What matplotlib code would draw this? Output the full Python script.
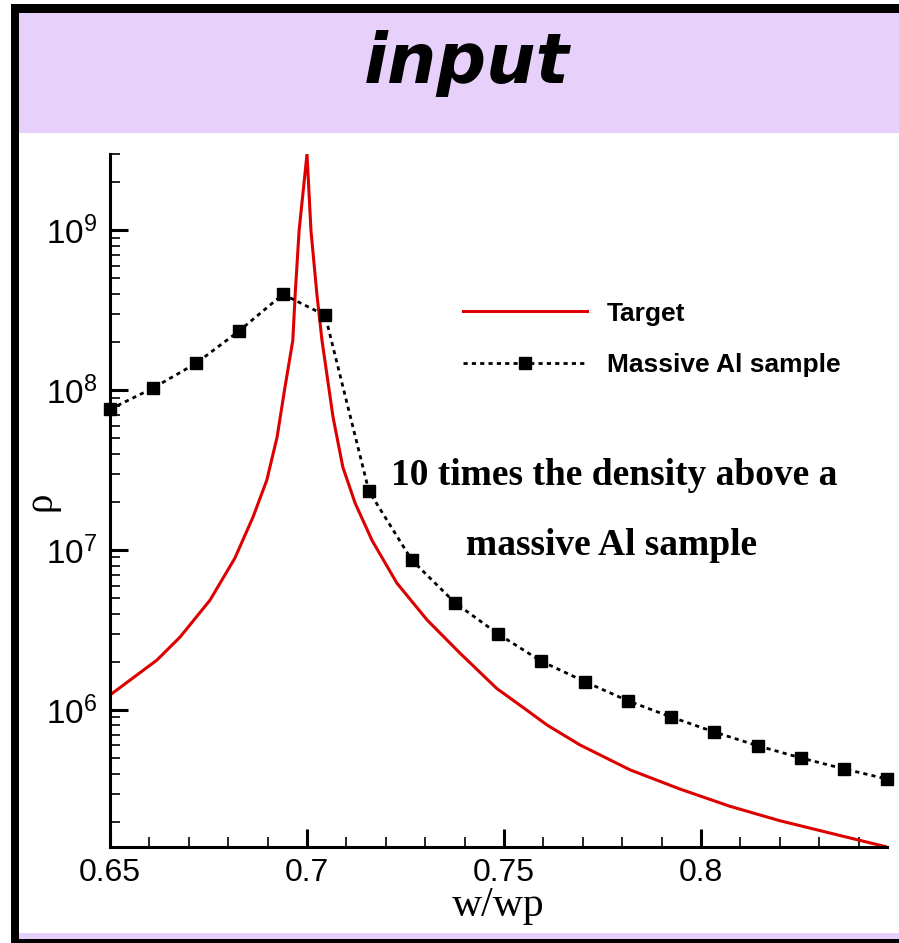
import matplotlib
matplotlib.use("Agg")
import matplotlib.pyplot as plt
from matplotlib.patches import Rectangle
from matplotlib.ticker import MultipleLocator, LogLocator, NullFormatter, FuncFormatter

# red curve (Target)
target_x = [0.650, 0.6619, 0.6678, 0.6754, 0.6817, 0.6863, 0.6898, 0.6924, 0.6944,
            0.6964, 0.6970, 0.6980, 0.7000, 0.7010, 0.7025, 0.7038, 0.7066, 0.7091,
            0.7122, 0.7165, 0.7228, 0.7305, 0.7388, 0.7482, 0.7550, 0.7609, 0.7693,
            0.7820, 0.7947, 0.8073, 0.8200, 0.8327, 0.8472]
target_y = [1.24e6, 2.05e6, 2.86e6, 4.87e6, 8.91e6, 1.61e7, 2.74e7, 5.08e7, 1.04e8,
            2.05e8, 4.0e8, 1.0e9, 3.0e9, 1.0e9, 4.0e8, 2.05e8, 6.8e7, 3.3e7,
            1.97e7, 1.15e7, 6.22e6, 3.65e6, 2.27e6, 1.36e6, 1.03e6, 8.06e5, 6.04e5,
            4.22e5, 3.20e5, 2.50e5, 2.03e5, 1.70e5, 1.39e5]

# black squares (Massive Al sample)
sample_x = [0.650, 0.6609, 0.6718, 0.6827, 0.6939, 0.7046, 0.7157, 0.7266, 0.7376,
            0.7485, 0.7594, 0.7706, 0.7815, 0.7924, 0.8033, 0.8145, 0.8254, 0.8363, 0.8472]
sample_y = [7.6e7, 1.03e8, 1.47e8, 2.34e8, 3.98e8, 2.94e8, 2.34e7, 8.66e6, 4.67e6,
            2.99e6, 2.02e6, 1.50e6, 1.14e6, 9.04e5, 7.29e5, 5.96e5, 5.01e5, 4.28e5, 3.70e5]

plt.rcParams['mathtext.fontset'] = 'custom'
plt.rcParams['mathtext.rm'] = 'Liberation Sans'
plt.rcParams['mathtext.it'] = 'Liberation Sans'

W, H = 899, 943
fig = plt.figure(figsize=(W / 100, H / 100), dpi=100)
fig.patch.set_facecolor('white')


def px_rect(x0, y0, x1, y1, color):
    # rectangle given in pixels from the top-left corner
    fig.add_artist(Rectangle((x0 / W, 1 - y1 / H), (x1 - x0) / W, (y1 - y0) / H,
                             transform=fig.transFigure, facecolor=color,
                             edgecolor='none', zorder=0))


purple = '#e7d1fb'
px_rect(19, 13, W, 133, purple)
px_rect(19, 933, W, 939, purple)
px_rect(11, 4, W, 13, 'black')
px_rect(11, 4, 19, H, 'black')
px_rect(11, 939, W, H, 'black')

fig.text(467 / W, 1 - 83 / H, 'input', ha='center', va='baseline',
         family='DejaVu Sans', weight='heavy', style='italic', fontsize=50)

ax = fig.add_axes([110 / W, 1 - 847 / H, 777 / W, (847 - 154) / H])
ax.set_facecolor('none')

ax.plot(target_x, target_y, color='#dd0000', lw=2.2, label='Target')
ax.plot(sample_x, sample_y, color='black', lw=2.0, linestyle=(0, (1.5, 1.5)),
        marker='s', markersize=8, clip_on=False, label='Massive Al sample')

ax.set_yscale('log')
ax.set_xlim(0.65, 0.8472)
ax.set_ylim(1.39e5, 3.0e9)

for side in ['top', 'right']:
    ax.spines[side].set_visible(False)
for side in ['left', 'bottom']:
    ax.spines[side].set_linewidth(2.2)

ax.xaxis.set_major_locator(MultipleLocator(0.05))
ax.xaxis.set_minor_locator(MultipleLocator(0.01))
ax.xaxis.set_major_formatter(FuncFormatter(lambda v, p: '%g' % round(v, 3)))
ax.yaxis.set_major_locator(LogLocator(base=10))
ax.yaxis.set_minor_locator(LogLocator(base=10, subs=range(2, 10)))
ax.yaxis.set_minor_formatter(NullFormatter())

ax.tick_params(which='both', direction='in', top=False, right=False)
ax.tick_params(which='major', length=13, width=2.2, labelsize=24, pad=9)
ax.tick_params(axis='x', which='major', labelsize=23, pad=8)
ax.tick_params(which='minor', length=7, width=1.2)
for lab in ax.get_xticklabels() + ax.get_yticklabels():
    lab.set_family('Liberation Sans')

ax.set_xlabel('w/wp', family='Liberation Serif', fontsize=30, va='baseline')
ax.xaxis.set_label_coords(0.5, (847 - 916) / 693)
ax.set_ylabel('ρ', family='Liberation Serif', fontsize=28, va='center')
ax.yaxis.set_label_coords((41 - 110) / 777, (847 - 501) / 693)

ax.legend(loc='upper left', bbox_to_anchor=(0.4543, 0.787), frameon=False,
          prop={'family': 'Liberation Sans', 'weight': 'bold', 'size': 19},
          handlelength=4.7, handletextpad=0.75, labelspacing=1.05,
          borderpad=0, borderaxespad=0, numpoints=1)

note = {'family': 'Liberation Serif', 'weight': 'bold', 'fontsize': 27,
        'ha': 'center', 'va': 'baseline', 'transform': ax.transAxes}
ax.text((614 - 110) / 777, (847 - 485) / 693, '10 times the density above a', **note)
ax.text((612 - 110) / 777, (847 - 555) / 693, 'massive Al sample', **note)

fig.savefig('out.png', dpi=100)
